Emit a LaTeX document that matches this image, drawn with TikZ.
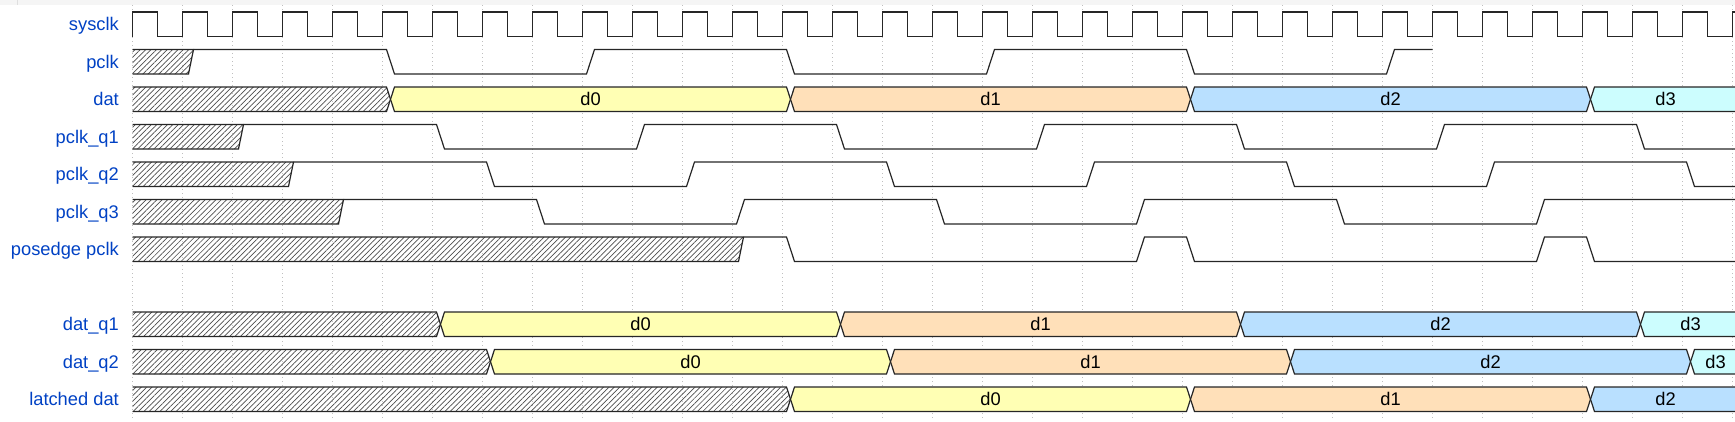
\documentclass[tikz,border=0pt]{standalone}
\usepackage{fontspec}
\setmainfont{Liberation Sans}
\usetikzlibrary{patterns.meta}
\definecolor{lblue}{HTML}{0041C4}
\definecolor{dyellow}{HTML}{FFFFB4}
\definecolor{dorange}{HTML}{FFE0B9}
\definecolor{dblue}{HTML}{B9E0FF}
\definecolor{dcyan}{HTML}{CCFDFE}
\tikzset{
  wave/.style={line width=1.2pt, black!85},
  hatch/.style={wave, pattern={Lines[angle=45,distance=3.8pt,line width=0.7pt]}, pattern color=black!70},
  bus/.style={wave, fill=#1},
  lbl/.style={anchor=base east, text=lblue, inner sep=0pt, font=\fontsize{18.3}{22}\selectfont},
  dlbl/.style={anchor=base, inner sep=0pt, font=\fontsize{18.3}{22}\selectfont},
  gridline/.style={gray!50, line width=0.9pt, dash pattern=on 1pt off 3pt},
  topbar/.style={fill=gray!8}
}
\begin{document}
\begin{tikzpicture}[x=1pt,y=-1pt]
  \path[use as bounding box, clip] (0,0) rectangle (1735,421);
  \fill[topbar] (0,0) rectangle (1735,4.5);
  \draw[gray!25] (17,0) -- (17,4.5);
  % signal names
  \node[lbl] (lsysclk) at (119,30.75) {sysclk};
  \node[lbl] (lpclk) at (119,68.25) {pclk};
  \node[lbl] (ldat) at (119,105.75) {dat};
  \node[lbl] (lq1) at (119,143.25) {pclk\_q1};
  \node[lbl] (lq2) at (119,180.75) {pclk\_q2};
  \node[lbl] (lq3) at (119,218.25) {pclk\_q3};
  \node[lbl] (lpos) at (119,255.75) {posedge pclk};
  \node[lbl] (ldq1) at (119,330.75) {dat\_q1};
  \node[lbl] (ldq2) at (119,368.25) {dat\_q2};
  \node[lbl] (llat) at (119,405.75) {latched dat};
  \begin{scope}[xshift=132.5pt, x=50pt]
    \foreach \k in {0,...,32}
      \draw[gridline] (\k,5) -- (\k,421);
    % sysclk
    \draw[wave] (0,36.5) \foreach \k in {0,...,32} { -- (\k,12) -- (\k+.5,12) -- (\k+.5,36.5) -- (\k+1,36.5) };
    % pclk
    \draw[hatch] (0,49.5) -- (1.22,49.5) -- (1.12,74) -- (0,74);
    \draw[wave] (1.22,49.5) -- (5.08,49.5) -- (5.24,74) -- (9.08,74) -- (9.24,49.5) -- (13.08,49.5) -- (13.24,74) -- (17.08,74) -- (17.24,49.5) -- (21.08,49.5) -- (21.24,74) -- (25.08,74) -- (25.24,49.5) -- (26,49.5);
    % dat
    \draw[hatch] (0,87) -- (5.08,87) -- (5.16,99.25) -- (5.08,111.5) -- (0,111.5);
    \draw[bus=dyellow] (5.16,99.25) -- (5.24,87) -- (13.08,87) -- (13.16,99.25) -- (13.08,111.5) -- (5.24,111.5) -- cycle;
    \draw[bus=dorange] (13.16,99.25) -- (13.24,87) -- (21.08,87) -- (21.16,99.25) -- (21.08,111.5) -- (13.24,111.5) -- cycle;
    \draw[bus=dblue] (21.16,99.25) -- (21.24,87) -- (29.08,87) -- (29.16,99.25) -- (29.08,111.5) -- (21.24,111.5) -- cycle;
    \draw[bus=dcyan] (29.16,99.25) -- (29.24,87) -- (33,87) -- (33,111.5) -- (29.24,111.5) -- cycle;
    \node[dlbl] (dat0) at (9.16,105.75) {d0};
    \node[dlbl] (dat1) at (17.16,105.75) {d1};
    \node[dlbl] (dat2) at (25.16,105.75) {d2};
    \node[dlbl] (dat3) at (30.66,105.75) {d3};
    % pclk_q1
    \draw[hatch] (0,124.5) -- (2.22,124.5) -- (2.12,149) -- (0,149);
    \draw[wave] (2.22,124.5) -- (6.08,124.5) -- (6.24,149) -- (10.08,149) -- (10.24,124.5) -- (14.08,124.5) -- (14.24,149) -- (18.08,149) -- (18.24,124.5) -- (22.08,124.5) -- (22.24,149) -- (26.08,149) -- (26.24,124.5) -- (30.08,124.5) -- (30.24,149) -- (33,149);
    % pclk_q2
    \draw[hatch] (0,162) -- (3.22,162) -- (3.12,186.5) -- (0,186.5);
    \draw[wave] (3.22,162) -- (7.08,162) -- (7.24,186.5) -- (11.08,186.5) -- (11.24,162) -- (15.08,162) -- (15.24,186.5) -- (19.08,186.5) -- (19.24,162) -- (23.08,162) -- (23.24,186.5) -- (27.08,186.5) -- (27.24,162) -- (31.08,162) -- (31.24,186.5) -- (33,186.5);
    % pclk_q3
    \draw[hatch] (0,199.5) -- (4.22,199.5) -- (4.12,224) -- (0,224);
    \draw[wave] (4.22,199.5) -- (8.08,199.5) -- (8.24,224) -- (12.08,224) -- (12.24,199.5) -- (16.08,199.5) -- (16.24,224) -- (20.08,224) -- (20.24,199.5) -- (24.08,199.5) -- (24.24,224) -- (28.08,224) -- (28.24,199.5) -- (32.08,199.5) -- (32.24,224) -- (33,224);
    % posedge pclk
    \draw[hatch] (0,237) -- (12.22,237) -- (12.12,261.5) -- (0,261.5);
    \draw[wave] (12.22,237) -- (13.08,237) -- (13.24,261.5) -- (20.08,261.5) -- (20.24,237) -- (21.08,237) -- (21.24,261.5) -- (28.08,261.5) -- (28.24,237) -- (29.08,237) -- (29.24,261.5) -- (33,261.5);
    % dat_q1
    \draw[hatch] (0,312) -- (6.08,312) -- (6.16,324.25) -- (6.08,336.5) -- (0,336.5);
    \draw[bus=dyellow] (6.16,324.25) -- (6.24,312) -- (14.08,312) -- (14.16,324.25) -- (14.08,336.5) -- (6.24,336.5) -- cycle;
    \draw[bus=dorange] (14.16,324.25) -- (14.24,312) -- (22.08,312) -- (22.16,324.25) -- (22.08,336.5) -- (14.24,336.5) -- cycle;
    \draw[bus=dblue] (22.16,324.25) -- (22.24,312) -- (30.08,312) -- (30.16,324.25) -- (30.08,336.5) -- (22.24,336.5) -- cycle;
    \draw[bus=dcyan] (30.16,324.25) -- (30.24,312) -- (33,312) -- (33,336.5) -- (30.24,336.5) -- cycle;
    \node[dlbl] (dq10) at (10.16,330.75) {d0};
    \node[dlbl] (dq11) at (18.16,330.75) {d1};
    \node[dlbl] (dq12) at (26.16,330.75) {d2};
    \node[dlbl] (dq13) at (31.16,330.75) {d3};
    % dat_q2
    \draw[hatch] (0,349.5) -- (7.08,349.5) -- (7.16,361.75) -- (7.08,374) -- (0,374);
    \draw[bus=dyellow] (7.16,361.75) -- (7.24,349.5) -- (15.08,349.5) -- (15.16,361.75) -- (15.08,374) -- (7.24,374) -- cycle;
    \draw[bus=dorange] (15.16,361.75) -- (15.24,349.5) -- (23.08,349.5) -- (23.16,361.75) -- (23.08,374) -- (15.24,374) -- cycle;
    \draw[bus=dblue] (23.16,361.75) -- (23.24,349.5) -- (31.08,349.5) -- (31.16,361.75) -- (31.08,374) -- (23.24,374) -- cycle;
    \draw[bus=dcyan] (31.16,361.75) -- (31.24,349.5) -- (33,349.5) -- (33,374) -- (31.24,374) -- cycle;
    \node[dlbl] (dq20) at (11.16,368.25) {d0};
    \node[dlbl] (dq21) at (19.16,368.25) {d1};
    \node[dlbl] (dq22) at (27.16,368.25) {d2};
    \node[dlbl] (dq23) at (31.66,368.25) {d3};
    % latched dat
    \draw[hatch] (0,387) -- (13.08,387) -- (13.16,399.25) -- (13.08,411.5) -- (0,411.5);
    \draw[bus=dyellow] (13.16,399.25) -- (13.24,387) -- (21.08,387) -- (21.16,399.25) -- (21.08,411.5) -- (13.24,411.5) -- cycle;
    \draw[bus=dorange] (21.16,399.25) -- (21.24,387) -- (29.08,387) -- (29.16,399.25) -- (29.08,411.5) -- (21.24,411.5) -- cycle;
    \draw[bus=dblue] (29.16,399.25) -- (29.24,387) -- (33,387) -- (33,411.5) -- (29.24,411.5) -- cycle;
    \node[dlbl] (lat0) at (17.16,405.75) {d0};
    \node[dlbl] (lat1) at (25.16,405.75) {d1};
    \node[dlbl] (lat2) at (30.66,405.75) {d2};
  \end{scope}
\end{tikzpicture}
\end{document}
